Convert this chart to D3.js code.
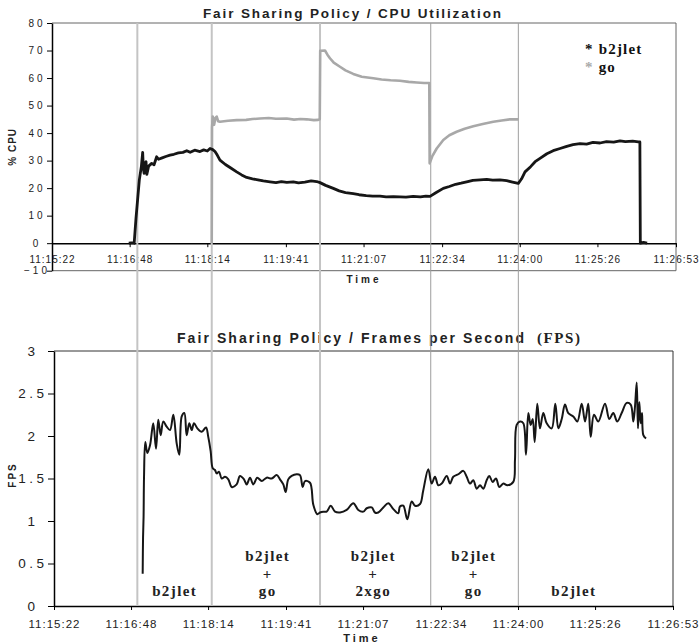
<!DOCTYPE html>
<html>
<head>
<meta charset="utf-8">
<script src="https://cdn.jsdelivr.net/npm/d3@7"></script>
<style>
  body { margin: 0; background: #fff; }
  svg { display: block; }
  text { font-family: "Liberation Sans", Arial, sans-serif; fill: #222; }
  .serif { font-family: "Liberation Serif", "Times New Roman", serif; font-weight: bold; }
</style>
</head>
<body>
<svg id="canvas" width="699" height="643"></svg>
<script>
// time ticks shared by both charts
const timeTicks = ["11:15:22", "11:16:48", "11:18:14", "11:19:41", "11:21:07",
  "11:22:34", "11:24:00", "11:25:26", "11:26:53"];
const cpuTicks = [-10, 0, 10, 20, 30, 40, 50, 60, 70, 80];
const fpsTicks = [0, 0.5, 1, 1.5, 2, 2.5, 3];

// all times are seconds after 11:15:22
const b2jletCpuTime = [85, 90, 91, 93, 96.7, 99, 100.4, 101.2, 102, 103, 104.1, 105, 107, 110.4, 113,
  115.9, 118, 122, 126, 130.7, 135, 140, 145, 149.2, 153, 158, 163.9, 168, 172, 175, 178, 180.5, 183,
  186, 192, 198, 204.5, 210, 215.6, 222, 228, 234, 241.4, 248, 254, 260, 267.2, 273, 280, 287, 293.1,
  296.8, 303, 311.5, 318, 325, 333.6, 340, 348, 355, 363.2, 370, 378, 385.3, 392, 400, 408, 414, 418.6,
  425, 433.3, 440, 447, 453, 459.2, 466, 474, 481.4, 488, 496, 503.5, 510, 516.4, 520, 523.8, 530, 535,
  540.4, 548, 555, 562.6, 570, 577, 584.7, 592, 599, 606.9, 614, 622, 629, 635, 643, 649.3, 651, 651.5,
  655, 659];
const b2jletCpu = [0, 0.2, 0, 9, 23, 28, 33, 27, 25.4, 29, 29.6, 25, 28, 29, 28.5,
  31.4, 30.5, 31, 31.5, 32, 32.3, 32.8, 33, 33.6, 33, 33.8, 33.3, 33.9, 33.5, 34.4, 34, 33.3, 32,
  30.2, 28.6, 27.3, 25.9, 24.8, 23.9, 23.4, 23, 22.6, 22.3, 22, 22.4, 22.1, 22.3, 21.9, 22.2, 22.6, 22.4,
  22, 21, 19.9, 19, 18.4, 18, 17.6, 17.3, 17.1, 17.1, 16.8, 16.9, 16.8, 16.7, 17, 16.8, 17.1, 17,
  18.3, 19.9, 20.6, 21.4, 21.8, 22.3, 22.8, 23, 23.2, 22.9, 23, 22.7, 22.2, 21.7, 23.4, 25.9, 27.8, 29.6,
  30.8, 32.5, 33.6, 34.4, 35.2, 35.8, 36.2, 36, 36.6, 36.4, 36.9, 36.7, 37.2, 36.9, 37.1, 36.8, 36.8, 0,
  0.3, 0];

const goCpuTime = [176.9, 177.2, 178, 179.5, 181, 182.4, 184, 186, 195, 204.5, 215, 222, 230.3, 240,
  248, 259.9, 268, 275, 282, 290, 294.9, 296.5, 297, 302.3, 305, 307.8, 312, 318.9, 325, 333.6, 343,
  355.8, 365, 375, 385.3, 395, 403.9, 412, 417.8, 418.2, 421, 426, 433.3, 440, 448.1, 457, 466.5, 477,
  488.7, 498, 507.1, 516.4];
const goCpu = [0, 42, 46, 43, 45.5, 46, 44.3, 44.1, 44.5, 44.7, 44.8, 45.1, 45.3, 45.5,
  45.2, 45.3, 44.9, 45.1, 45, 44.7, 44.8, 45, 69.9, 70, 68.5, 67.2, 65.6, 64.1, 62.8, 61.5, 60.5,
  59.9, 59.5, 59.2, 59, 58.6, 58.4, 58.2, 58.2, 29, 31.5, 34.4, 37.5, 39.2, 40.5, 41.6, 42.5, 43.3,
  44.1, 44.6, 45, 45];

const fpsTime = [99, 99.4, 100, 100.5, 101.9, 104.2, 107.2, 110.8, 113.9, 116.4, 119.1, 122, 125.8,
  129.5, 133.2, 137, 139.9, 142.6, 145.5, 148.1, 151, 153.7, 156.3, 160, 164.9, 169.7, 172.2, 174.9,
  177.2, 179.7, 181.6, 184.2, 187.2, 190.9, 194.6, 198.4, 203.9, 207.6, 212.1, 215.1, 218.8, 222.5,
  226.9, 231.9, 237.4, 243, 248.6, 252.3, 256, 258.6, 261.5, 265.3, 270.9, 274.6, 277.6, 280.2, 285.8,
  289.5, 293.9, 296.9, 300.6, 304.4, 308.9, 313.7, 319.3, 326.7, 334.1, 339.7, 345.3, 349.1, 354.7,
  358.3, 362, 367.6, 373.2, 378.8, 384.3, 386.2, 389.9, 394.4, 399.3, 403, 408.6, 412.2, 417.8, 421.6,
  425.3, 429, 432.8, 438.4, 442.1, 445.7, 451.3, 456.9, 460.7, 464.4, 468.1, 471.9, 475.6, 479.2, 483,
  485.9, 489.7, 493.4, 497.1, 501.6, 506, 512.7, 514.6, 516.5, 520.2, 523.9, 526.9, 529.5, 532.1,
  534.4, 536.6, 539.5, 542.5, 546.2, 550, 555.6, 559.6, 563, 566.8, 570.4, 574.1, 579.7, 584.2, 589.1,
  592.8, 596.4, 599.1, 602.8, 607.6, 615.1, 619.9, 624.3, 628.8, 633.7, 639.3, 643.8, 646.7, 648.6,
  650.5, 651.9, 653.4, 654.9, 656.4, 657.9, 660.9];
const fps = [0.38, 0.8, 1.05, 1.52, 1.93, 1.8, 1.89, 2.15, 1.85, 2.19, 2.01, 2.17, 2.11,
  2.07, 2.25, 1.91, 1.78, 2.23, 2.27, 2.01, 2.15, 2.07, 2.15, 2.09, 2.05, 2.1, 1.99, 1.82,
  1.62, 1.6, 1.56, 1.58, 1.5, 1.52, 1.49, 1.4, 1.43, 1.53, 1.49, 1.43, 1.51, 1.43,
  1.51, 1.47, 1.51, 1.5, 1.54, 1.49, 1.43, 1.34, 1.49, 1.53, 1.55, 1.54, 1.4, 1.47, 1.45,
  1.19, 1.08, 1.1, 1.11, 1.11, 1.18, 1.11, 1.1, 1.13, 1.21, 1.13, 1.11, 1.15, 1.16,
  1.1, 1.1, 1.16, 1.21, 1.14, 1.09, 1.17, 1.18, 1.02, 1.23, 1.18, 1.2, 1.36, 1.61, 1.44,
  1.52, 1.42, 1.44, 1.53, 1.44, 1.52, 1.55, 1.59, 1.52, 1.44, 1.48, 1.38, 1.42, 1.38, 1.48,
  1.53, 1.46, 1.5, 1.4, 1.44, 1.42, 1.46, 1.72, 2.13, 2.17, 2.15, 1.78, 2.27, 2.13,
  2.2, 1.93, 2.38, 2.09, 2.27, 2.15, 2.09, 2.38, 2.09, 2.2, 2.37, 2.27, 2.23, 2.17, 2.38,
  2.17, 2.38, 1.99, 2.25, 2.17, 2.38, 2.2, 2.27, 2.17, 2.27, 2.39, 2.37, 2.17, 2.35,
  2.63, 2.09, 2.4, 2.15, 2.27, 2.01, 1.97];

// phase changes (grey verticals) and the labels under the fps curve
const phaseBounds = [94.5, 176.9, 296.8, 419.4, 516.4];
const phaseMid = [134.7, 238.6, 356.4, 468.6, 580.3];
const phaseNames = [["b2jlet"], ["b2jlet", "+", "go"], ["b2jlet", "+", "2xgo"], ["b2jlet", "+", "go"], ["b2jlet"]];

const secs = (s) => {
  const [h, m, x] = s.split(":").map(Number);
  return h * 3600 + m * 60 + x;
};
const tickSecs = timeTicks.map((s) => secs(s) - secs(timeTicks[0]));
const tEnd = tickSecs[tickSecs.length - 1];

const svg = d3.select("#canvas");

const xCpu = d3.scaleLinear().domain([0, tEnd]).range([52, 676]);
const yCpu = d3.scaleLinear().domain([-10, 80]).range([270.7, 23]);
const xFps = d3.scaleLinear().domain([0, tEnd]).range([54, 673]);
const yFps = d3.scaleLinear().domain([0, 3]).range([606, 351]);

// ---------- top chart: CPU ----------
svg.append("text").attr("x", 203).attr("y", 18.3)
  .attr("textLength", 298).attr("lengthAdjust", "spacing")
  .style("font-size", "13.5px").style("font-weight", "bold")
  .text("Fair Sharing Policy / CPU Utilization");

svg.append("path")
  .attr("d", `M${xCpu(0)},${yCpu(80)}H${xCpu(tEnd)}V${yCpu(-10)}H${xCpu(0)}`)
  .attr("fill", "none").attr("stroke", "#666");

const yAxisCpu = svg.append("g").attr("transform", `translate(${xCpu(0)},0)`)
  .call(d3.axisLeft(yCpu).tickValues(cpuTicks).tickSize(5).tickSizeOuter(0));
yAxisCpu.select(".domain").attr("stroke-width", 1.5);
yAxisCpu.selectAll(".tick text")
  .attr("text-anchor", "middle").attr("x", -15)
  .style("font-size", "10px").style("letter-spacing", "3px");

const xAxisCpu = svg.append("g").attr("transform", `translate(0,${yCpu(0)})`)
  .call(d3.axisBottom(xCpu).tickValues(tickSecs).tickFormat((d, i) => timeTicks[i])
    .tickSize(4).tickSizeOuter(0));
xAxisCpu.select(".domain").attr("stroke-width", 1.5);
xAxisCpu.selectAll(".tick text").attr("y", 19.5).attr("dy", 0)
  .style("font-size", "10px").style("letter-spacing", "1px");

svg.append("text")
  .attr("transform", `translate(16,${(yCpu(80) + yCpu(-10)) / 2}) rotate(-90)`)
  .attr("text-anchor", "middle")
  .style("font-size", "10px").style("font-weight", "bold").style("letter-spacing", "1px")
  .text("% CPU");

svg.append("text").attr("x", (xCpu(0) + xCpu(tEnd)) / 2).attr("y", 282.7)
  .attr("text-anchor", "middle")
  .style("font-size", "10px").style("font-weight", "bold").style("letter-spacing", "3px")
  .text("Time");

// legend
const legend = svg.append("g");
[["b2jlet", "#111", 54.3], ["go", "#aaa", 71.7]].forEach(([name, col, y]) => {
  const t = legend.append("text").attr("class", "serif").attr("x", 585).attr("y", y)
    .style("font-size", "15px").style("letter-spacing", "1.2px");
  t.append("tspan").style("fill", col).text("*");
  t.append("tspan").style("fill", "#111").text(" " + name);
});

// ---------- bottom chart: FPS ----------
svg.append("text").attr("x", 177).attr("y", 342.7)
  .attr("textLength", 347).attr("lengthAdjust", "spacing")
  .style("font-size", "14px").style("font-weight", "bold")
  .text("Fair Sharing Policy / Frames per Second");
svg.append("text").attr("class", "serif").attr("x", 537).attr("y", 342.7)
  .attr("textLength", 43).attr("lengthAdjust", "spacing")
  .style("font-size", "15px")
  .text("(FPS)");

svg.append("path")
  .attr("d", `M${xFps(0)},${yFps(3)}H${xFps(tEnd)}V${yFps(0)}`)
  .attr("fill", "none").attr("stroke", "#333");

const yAxisFps = svg.append("g").attr("transform", `translate(${xFps(0)},0)`)
  .call(d3.axisLeft(yFps).tickValues(fpsTicks).tickFormat(d3.format("~g")).tickSize(6).tickSizeOuter(0));
yAxisFps.select(".domain").attr("stroke-width", 1.5);
yAxisFps.selectAll(".tick text")
  .attr("text-anchor", "middle").attr("x", -21)
  .style("font-size", "13.5px").style("letter-spacing", "3.5px");

const xAxisFps = svg.append("g").attr("transform", `translate(0,${yFps(0)})`)
  .call(d3.axisBottom(xFps).tickValues(tickSecs).tickFormat((d, i) => timeTicks[i])
    .tickSize(4).tickSizeOuter(0));
xAxisFps.select(".domain").attr("stroke-width", 1.5);
xAxisFps.selectAll(".tick text").attr("y", 22.3).attr("dy", 0)
  .style("font-size", "11.5px").style("letter-spacing", "1px");

svg.append("text")
  .attr("transform", `translate(15.5,475) rotate(-90)`)
  .attr("text-anchor", "middle")
  .style("font-size", "10px").style("font-weight", "bold").style("letter-spacing", "2px")
  .text("FPS");

svg.append("text").attr("x", 362).attr("y", 641.7)
  .attr("text-anchor", "middle")
  .style("font-size", "11px").style("font-weight", "bold").style("letter-spacing", "3px")
  .text("Time");

// phase labels
const phases = svg.append("g").selectAll("text").data(phaseNames).join("text")
  .attr("class", "serif").attr("text-anchor", "middle")
  .style("font-size", "15px").style("letter-spacing", "1.4px");
phases.each(function (lines, i) {
  const n = lines.length;
  d3.select(this).selectAll("tspan").data(lines).join("tspan")
    .attr("x", xFps(phaseMid[i]))
    .attr("y", (d, j) => 596 - (n - 1 - j) * 17.5)
    .text((d) => d);
});

// grey phase verticals, crossing both charts
svg.append("g").selectAll("line").data(phaseBounds).join("line")
  .attr("x1", (d) => xCpu(d)).attr("x2", (d) => xCpu(d))
  .attr("y1", yCpu(80)).attr("y2", yFps(0))
  .attr("stroke", (d, i) => (i < 3 ? "#c4c4c4" : "#9e9e9e"))
  .attr("stroke-width", (d, i) => (i < 3 ? 2 : 1));

// series
const cpuLine = d3.line().x((d) => xCpu(d[0])).y((d) => yCpu(d[1]));
svg.append("path")
  .datum(d3.zip(goCpuTime, goCpu))
  .attr("d", cpuLine)
  .attr("fill", "none").attr("stroke", "#a8a8a8").attr("stroke-width", 2.6)
  .attr("stroke-linejoin", "round");
svg.append("path")
  .datum(d3.zip(b2jletCpuTime, b2jletCpu))
  .attr("d", cpuLine)
  .attr("fill", "none").attr("stroke", "#161616").attr("stroke-width", 2.8)
  .attr("stroke-linejoin", "round");

const fpsLine = d3.line().x((d) => xFps(d[0])).y((d) => yFps(d[1]))
  .curve(d3.curveCatmullRom.alpha(0.5));
svg.append("path")
  .datum(d3.zip(fpsTime, fps))
  .attr("d", fpsLine)
  .attr("fill", "none").attr("stroke", "#161616").attr("stroke-width", 2)
  .attr("stroke-linejoin", "round");
</script>
</body>
</html>
